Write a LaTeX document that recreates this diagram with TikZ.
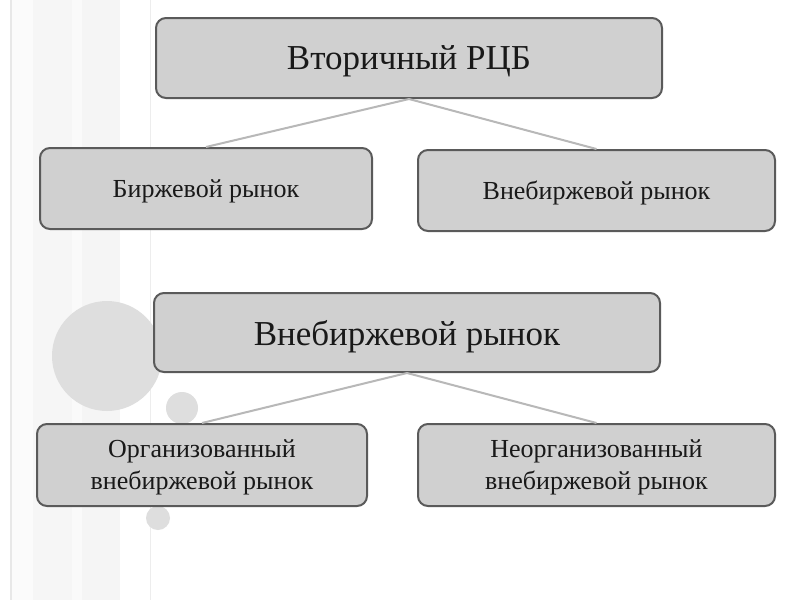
\documentclass[tikz,border=0pt]{standalone}
\usepackage{fontspec}
\setmainfont{Liberation Serif}
\begin{document}
\begin{tikzpicture}[x=1pt,y=-1pt,
  box/.style={draw=boxline, line width=2pt, fill=boxfill, rounded corners=10pt,
    text=black!90, align=center, inner sep=0pt, text depth=0pt},
  small/.style={font=\fontsize{26}{32}\selectfont},
  big/.style={font=\fontsize{35}{40}\selectfont},
  link/.style={draw=linkgrey, line width=2pt}]
\definecolor{boxfill}{HTML}{D0D0D0}
\definecolor{boxline}{HTML}{5A5A5A}
\definecolor{linkgrey}{HTML}{B8B8B8}
\definecolor{circgrey}{HTML}{DEDEDE}
\useasboundingbox (0,0) rectangle (800,600);
\fill[white] (0,0) rectangle (800,600);
% background stripes
\fill[black!9] (10,0) rectangle (12,600);
\fill[black!1.5] (12,0) rectangle (33,600);
\fill[black!3.5] (33,0) rectangle (72,600);
\fill[black!2] (72,0) rectangle (82,600);
\fill[black!4] (82,0) rectangle (120,600);
\fill[black!7] (149.5,0) rectangle (151,600);
% circles
\fill[circgrey] (107,356) circle (55);
\fill[circgrey] (182,408) circle (16);
\fill[circgrey] (158,518) circle (12);
% nodes
\node[box, big, minimum width=506pt, minimum height=80pt] (top) at (409,58) {Вторичный РЦБ};
\node[box, small, minimum width=332pt, minimum height=81pt] (exch) at (206,188.5) {Биржевой рынок};
\node[box, small, minimum width=357pt, minimum height=81pt] (otc) at (596.5,190.5) {Внебиржевой рынок};
\node[box, big, minimum width=506pt, minimum height=79pt] (otc2) at (407,332.5) {Внебиржевой рынок};
\node[box, small, minimum width=330pt, minimum height=82pt] (org) at (202,465) {Организованный\\внебиржевой рынок};
\node[box, small, minimum width=357pt, minimum height=82pt] (unorg) at (596.5,465) {Неорганизованный\\внебиржевой рынок};
% connectors
\draw[link] (top.south) -- (exch.north);
\draw[link] (top.south) -- (otc.north);
\draw[link] (otc2.south) -- (org.north);
\draw[link] (otc2.south) -- (unorg.north);
\end{tikzpicture}
\end{document}
